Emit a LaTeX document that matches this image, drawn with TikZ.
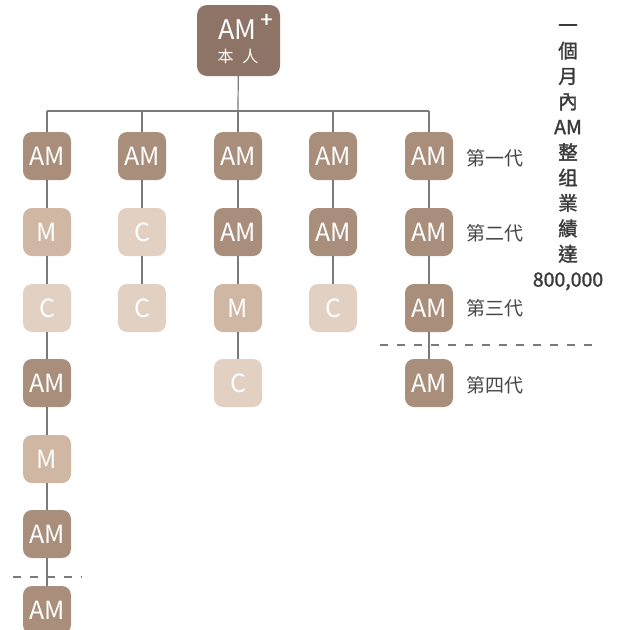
\documentclass[tikz,border=0pt]{standalone}
\usepackage{fontspec}
\setmainfont{Noto Sans CJK TC}
\newfontfamily\vfont[FakeBold=1.6]{Noto Sans CJK TC}
\definecolor{amc}{HTML}{A98F7B}
\definecolor{mc}{HTML}{CFB7A3}
\definecolor{cc}{HTML}{E2D0C3}
\definecolor{topc}{HTML}{8D7466}
\definecolor{linec}{HTML}{7A7A7A}
\definecolor{txtc}{HTML}{454545}
\definecolor{vtc}{HTML}{3A3A3A}
\tikzset{
  box/.style={rectangle, rounded corners=9pt, minimum width=48pt, minimum height=48pt, inner sep=0pt, text=white, font=\fontsize{25}{25}\selectfont},
  amb/.style={box, fill=amc},
  mb/.style={box, fill=mc},
  cb/.style={box, fill=cc},
  toptxt/.style={text=white, inner sep=0pt},
  conn/.style={draw=linec, line width=1.2pt},
  dline/.style={draw=linec, line width=1.2pt, dash pattern=on 8pt off 9pt},
  gen/.style={text=txtc, font=\fontsize{19}{19}\selectfont, anchor=west},
  vtxt/.style={text=vtc, font=\vfont\fontsize{19.5}{25.4}\selectfont, align=center, inner sep=0pt}
}
\begin{document}
\begin{tikzpicture}[x=1pt,y=-1pt]
\useasboundingbox (0,0) rectangle (621,630);
% top node
\node[rectangle, rounded corners=10pt, minimum width=83pt, minimum height=71pt, fill=topc, inner sep=0pt] (top) at (238.5,40.5) {};
\node[toptxt, font=\fontsize{27}{27}\selectfont] (topam) at (237.5,30) {AM};
\node[toptxt, font=\vfont\fontsize{21}{21}\selectfont] (plus) at (266.5,20.5) {+};
\node[toptxt, font=\fontsize{16}{16}\selectfont] (topme) at (238,56) {本\hspace{9pt}人};
% bus coordinates
\coordinate (b1) at (47,111);
\coordinate (b2) at (142,111);
\coordinate (b3) at (238,111);
\coordinate (b4) at (333,111);
\coordinate (b5) at (429,111);
% column 1
\node[amb] (a1) at (47,156) {AM};
\node[mb]  (a2) at (47,232) {M};
\node[cb]  (a3) at (47,308) {C};
\node[amb] (a4) at (47,383) {AM};
\node[mb]  (a5) at (47,459) {M};
\node[amb] (a6) at (47,534) {AM};
\node[amb] (a7) at (47,610) {AM};
% column 2
\node[amb] (b21) at (142,156) {AM};
\node[cb]  (b22) at (142,232) {C};
\node[cb]  (b23) at (142,308) {C};
% column 3
\node[amb] (c1) at (238,156) {AM};
\node[amb] (c2) at (238,232) {AM};
\node[mb]  (c3) at (238,308) {M};
\node[cb]  (c4) at (238,383) {C};
% column 4
\node[amb] (d1) at (333,156) {AM};
\node[amb] (d2) at (333,232) {AM};
\node[cb]  (d3) at (333,308) {C};
% column 5
\node[amb] (e1) at (429,156) {AM};
\node[amb] (e2) at (429,232) {AM};
\node[amb] (e3) at (429,308) {AM};
\node[amb] (e4) at (429,383) {AM};
% connectors
\draw[conn] (top) -- (b3);
\draw[conn] (b1) -- (b5);
\draw[conn] (b1) -- (a1);
\draw[conn] (b2) -- (b21);
\draw[conn] (b3) -- (c1);
\draw[conn] (b4) -- (d1);
\draw[conn] (b5) -- (e1);
\draw[conn] (a1) -- (a2);
\draw[conn] (a2) -- (a3);
\draw[conn] (a3) -- (a4);
\draw[conn] (a4) -- (a5);
\draw[conn] (a5) -- (a6);
\draw[conn] (a6) -- (a7);
\draw[conn] (b21) -- (b22);
\draw[conn] (b22) -- (b23);
\draw[conn] (c1) -- (c2);
\draw[conn] (c2) -- (c3);
\draw[conn] (c3) -- (c4);
\draw[conn] (d1) -- (d2);
\draw[conn] (d2) -- (d3);
\draw[conn] (e1) -- (e2);
\draw[conn] (e2) -- (e3);
\draw[conn] (e3) -- (e4);
% dashed separators
\coordinate (dl1) at (13,577);
\coordinate (dl2) at (82,577);
\coordinate (dr1) at (380,345);
\coordinate (dr2) at (600,345);
\draw[dline] (dl1) -- (dl2);
\draw[dline] (dr1) -- (dr2);
% generation labels
\node[gen] (g1) at (463,158) {第一代};
\node[gen] (g2) at (463,233) {第二代};
\node[gen] (g3) at (463,308) {第三代};
\node[gen] (g4) at (463,385) {第四代};
% vertical text
\node[vtxt, anchor=north] (vt) at (568,24) {一\\個\\月\\內\\AM\\整\\组\\業\\績\\達\\800,000};
\end{tikzpicture}
\end{document}
